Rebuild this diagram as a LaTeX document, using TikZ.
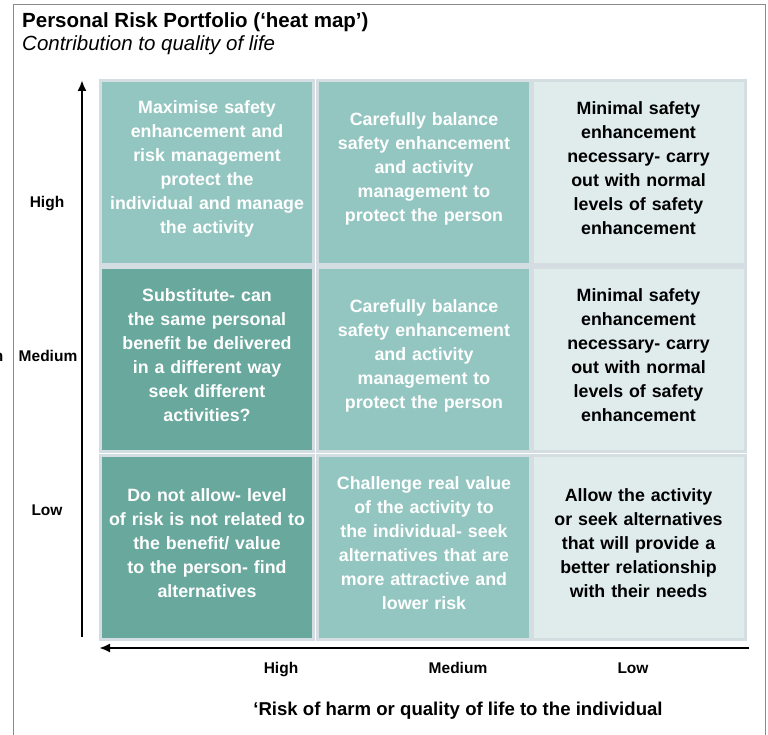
\documentclass[tikz,border=0pt]{standalone}
\usepackage{fontspec}
\setmainfont{Liberation Sans}
\usetikzlibrary{arrows.meta}
\definecolor{tealA}{HTML}{93C6C1}
\definecolor{tealB}{HTML}{69A89D}
\definecolor{paleC}{HTML}{E0ECEC}
\definecolor{cellrim}{HTML}{D4DEE2}
\definecolor{framegrey}{HTML}{8A8A8A}

\begin{document}
\begin{tikzpicture}[x=1pt,y=-1pt,
  cellbox/.style={draw=cellrim, line width=3pt, minimum width=213pt,
    minimum height=184pt, inner sep=0pt},
  celltext/.style={inner sep=0pt, align=center, text width=210pt,
    font=\fontsize{17.8}{24}\selectfont\bfseries},
  light/.style={cellbox, fill=tealA},
  dark/.style={cellbox, fill=tealB},
  pale/.style={cellbox, fill=paleC},
  ontint/.style={celltext, text=white},
  onpale/.style={celltext, text=black},
  axislab/.style={anchor=base, inner sep=0pt, font=\fontsize{15.5}{18}\selectfont\bfseries},
  axisarrow/.style={line width=2.5pt, -{Latex[length=11pt,width=9pt]}}
]
\useasboundingbox (0,0) rectangle (768,735);

% outer frame (runs off the bottom of the page)
\draw[framegrey, line width=1pt] (13,760) -- (13,4.5) -- (765,4.5) -- (765,760);

% headings
\node[anchor=base west, inner sep=0pt, font=\fontsize{20.5}{24}\selectfont\bfseries]
  (title) at (22,27.5) {Personal Risk Portfolio (‘heat map’)};
\node[anchor=base west, inner sep=0pt, font=\fontsize{20.5}{24}\selectfont\itshape]
  (subtitle) at (22,50.5) {Contribution to quality of life};

% heat map cells
\node[light] (c11) at (207,172.5) {};
\node[light] (c12) at (424,172.5) {};
\node[pale]  (c13) at (638.5,172.5) {};
\node[dark]  (c21) at (207,359.5) {};
\node[light] (c22) at (424,359.5) {};
\node[pale]  (c23) at (638.5,359.5) {};
\node[dark]  (c31) at (207,547) {};
\node[light] (c32) at (424,547) {};
\node[pale]  (c33) at (638.5,547) {};

% cell texts, set a little above each cell's centre
\node[ontint] (t11) at ([yshift=4pt]c11.center) {Maximise safety\\enhancement and\\risk management\\protect the\\individual and manage\\the activity};
\node[ontint] (t12) at ([yshift=4pt]c12.center) {Carefully balance\\safety enhancement\\and activity\\management to\\protect the person};
\node[onpale] (t13) at ([yshift=4pt]c13.center) {Minimal safety\\enhancement\\necessary- carry\\out with normal\\levels of safety\\enhancement};
\node[ontint] (t21) at ([yshift=4pt]c21.center) {Substitute- can\\the same personal\\benefit be delivered\\in a different way\\seek different\\activities?};
\node[ontint] (t22) at ([yshift=4pt]c22.center) {Carefully balance\\safety enhancement\\and activity\\management to\\protect the person};
\node[onpale] (t23) at ([yshift=4pt]c23.center) {Minimal safety\\enhancement\\necessary- carry\\out with normal\\levels of safety\\enhancement};
\node[ontint] (t31) at ([yshift=4pt]c31.center) {Do not allow- level\\of risk is not related to\\the benefit/ value\\to the person- find\\alternatives};
\node[ontint] (t32) at ([yshift=4pt]c32.center) {Challenge real value\\of the activity to\\the individual- seek\\alternatives that are\\more attractive and\\lower risk};
\node[onpale] (t33) at ([yshift=4pt]c33.center) {Allow the activity\\or seek alternatives\\that will provide a\\better relationship\\with their needs};

% axes
\coordinate (vtail) at (82,637);
\coordinate (vtip) at (82,80);
\coordinate (htail) at (749,648);
\coordinate (htip) at (99,648);
\draw[axisarrow] (vtail) -- (vtip);
\draw[axisarrow] (htail) -- (htip);

% vertical axis labels
\node[axislab] (yhigh) at (47,208) {High};
\node[axislab] (ymed) at (48,361) {Medium};
\node[axislab] (ylow) at (47,515) {Low};
\node[anchor=base east, inner sep=0pt, font=\fontsize{15.5}{18}\selectfont\bfseries]
  (ycut) at (3.5,361) {n};

% horizontal axis labels
\node[axislab] (xhigh) at (281,673) {High};
\node[axislab] (xmed) at (458,673) {Medium};
\node[axislab] (xlow) at (633,673) {Low};
\node[anchor=base, inner sep=0pt, font=\fontsize{18.6}{22}\selectfont\bfseries]
  (xtitle) at (458,715) {‘Risk of harm or quality of life to the individual};
\end{tikzpicture}
\end{document}
